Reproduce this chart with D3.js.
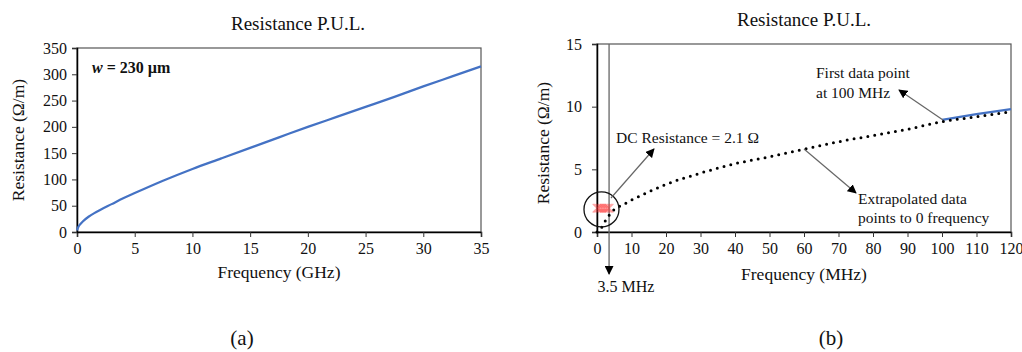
<!DOCTYPE html>
<html>
<head>
<meta charset="utf-8">
<script src="https://cdn.jsdelivr.net/npm/d3@7"></script>
<style>
  body { margin: 0; background: #fff; }
  text { font-family: 'Liberation Serif', serif; }
</style>
</head>
<body>
<div id="chart"></div>
<script>
// ---- data ----
// panel (a): resistance vs frequency in GHz
const ghzFreq = [0, 0.1, 0.25, 0.5, 1, 1.5, 2, 3, 4, 5, 7.5, 10, 12.5, 15, 17.5, 20, 22.5, 25, 27.5, 30, 32.5, 35]
const ghzRes  = [3, 9, 14, 20, 29, 36, 42, 53, 64, 74, 98, 120, 140, 160, 180, 200, 219, 238, 257, 277, 296, 315]
const ghzTicks = [0, 5, 10, 15, 20, 25, 30, 35]
const resTicksA = [0, 50, 100, 150, 200, 250, 300, 350]

// panel (b): measured (blue), extrapolated (dotted), DC points (red)
const mhzFreq = [100, 110, 120]
const mhzRes  = [8.95, 9.4, 9.8]
const extFreq = [0, 1, 2, 3, 4, 5, 6.5, 8, 10, 15, 20, 30, 40, 50, 60, 70, 80, 90, 100, 110, 120]
const extRes  = [0, 0.2, 0.7, 1.15, 1.5, 1.8, 2.05, 2.25, 2.55, 3.2, 3.8, 4.7, 5.45, 6.0, 6.6, 7.2, 7.7, 8.2, 8.8, 9.2, 9.6]
const dcFreq = [0, 0.5, 1, 1.5, 2, 2.5, 3, 3.5]
const dcRes  = [1.9, 1.9, 1.9, 1.9, 1.9, 1.9, 1.9, 1.9]
const mhzTicks = d3.range(0, 121, 10)
const resTicksB = [0, 5, 10, 15]

const svg = d3.select("#chart").append("svg")
  .attr("width", 1022).attr("height", 352)

const defs = svg.append("defs")
defs.append("marker")
  .attr("id", "head")
  .attr("viewBox", "0 0 10 10")
  .attr("refX", 9).attr("refY", 5)
  .attr("markerWidth", 9).attr("markerHeight", 9)
  .attr("markerUnits", "userSpaceOnUse")
  .attr("orient", "auto")
  .append("path").attr("d", "M0,0 L10,5 L0,10 Z").attr("fill", "#000")

function label(sel, size) {
  return sel.attr("font-family", "Liberation Serif")
    .attr("font-size", size).attr("fill", "#111")
}

function panel(opts) {
  const {left, right, top, bottom} = opts
  const x = d3.scaleLinear().domain(opts.xDomain).range([left, right])
  const y = d3.scaleLinear().domain(opts.yDomain).range([bottom, top])
  const g = svg.append("g")

  // frame (top/right grey)
  g.append("rect")
    .attr("x", left).attr("y", top)
    .attr("width", right - left).attr("height", bottom - top)
    .attr("fill", "none").attr("stroke", "#555").attr("stroke-width", 1.2)

  const xAxis = g.append("g")
    .attr("transform", `translate(0,${bottom})`)
    .call(d3.axisBottom(x).tickValues(opts.xTicks).tickSize(5).tickPadding(6))
  const yAxis = g.append("g")
    .attr("transform", `translate(${left},0)`)
    .call(d3.axisLeft(y).tickValues(opts.yTicks).tickSize(5).tickPadding(opts.yPad))
  for (const ax of [xAxis, yAxis]) {
    ax.attr("font-family", "Liberation Serif").attr("font-size", 16)
    ax.select(".domain").attr("stroke", "#000").attr("stroke-width", 1.5)
    ax.selectAll(".tick line").attr("stroke", "#333")
    ax.selectAll("text").attr("fill", "#111")
  }

  label(g.append("text"), 19)
    .attr("x", opts.titleX).attr("y", opts.titleY)
    .attr("text-anchor", "middle")
    .text("Resistance  P.U.L.")
  label(g.append("text"), 17.5)
    .attr("x", (left + right) / 2).attr("y", opts.xTitleY)
    .attr("text-anchor", "middle")
    .text(opts.xTitle)
  label(g.append("text"), 17.5)
    .attr("transform", `translate(${opts.yTitleX},${opts.yTitleY}) rotate(-90)`)
    .attr("text-anchor", "middle")
    .text("Resistance (Ω/m)")
  return {g, x, y}
}

// ---- panel (a) ----
const A = panel({
  left: 77, right: 481, top: 48, bottom: 232,
  xDomain: [0, 35], yDomain: [0, 350],
  xTicks: ghzTicks, yTicks: resTicksA, yPad: 5,
  titleX: 298, titleY: 30,
  xTitle: "Frequency (GHz)", xTitleY: 278,
  yTitleX: 24, yTitleY: 140
})
A.g.append("path")
  .datum(d3.zip(ghzFreq, ghzRes))
  .attr("fill", "none").attr("stroke", "#4472C4").attr("stroke-width", 2.2)
  .attr("d", d3.line().x(d => A.x(d[0])).y(d => A.y(d[1])).curve(d3.curveMonotoneX))
label(A.g.append("text"), 16)
  .attr("x", 92).attr("y", 73)
  .attr("font-weight", "bold")
  .call(t => {
    t.append("tspan").attr("font-style", "italic").text("w")
    t.append("tspan").text(" = 230 µm")
  })

// ---- panel (b) ----
const B = panel({
  left: 597, right: 1011, top: 44, bottom: 232,
  xDomain: [0, 120], yDomain: [0, 15],
  xTicks: mhzTicks, yTicks: resTicksB, yPad: 10,
  titleX: 804, titleY: 26,
  xTitle: "Frequency (MHz)", xTitleY: 280,
  yTitleX: 549, yTitleY: 143
})

// 3.5 MHz marker line
B.g.append("line")
  .attr("x1", B.x(3.5)).attr("x2", B.x(3.5))
  .attr("y1", 44).attr("y2", 274)
  .attr("stroke", "#666").attr("stroke-width", 1.3)
  .attr("marker-end", "url(#head)")
label(B.g.append("text"), 16)
  .attr("x", 626).attr("y", 292).attr("text-anchor", "middle")
  .text("3.5 MHz")

// blue measured
B.g.append("path")
  .datum(d3.zip(mhzFreq, mhzRes))
  .attr("fill", "none").attr("stroke", "#4472C4").attr("stroke-width", 2.2)
  .attr("d", d3.line().x(d => B.x(d[0])).y(d => B.y(d[1])))

// dotted extrapolation
B.g.append("path")
  .datum(d3.zip(extFreq, extRes))
  .attr("fill", "none").attr("stroke", "#000").attr("stroke-width", 3)
  .attr("stroke-linecap", "round").attr("stroke-dasharray", "0 7")
  .attr("d", d3.line().x(d => B.x(d[0])).y(d => B.y(d[1])).curve(d3.curveMonotoneX))

// red DC points
B.g.append("g").selectAll("path")
  .data(d3.zip(dcFreq, dcRes))
  .join("path")
  .attr("transform", d => `translate(${B.x(d[0])},${B.y(d[1])})`)
  .attr("d", d3.symbol(d3.symbolX, 50)())
  .attr("fill", "none").attr("stroke", "#ff3030").attr("stroke-opacity", 0.45).attr("stroke-width", 1.3)

// circle around DC
B.g.append("circle")
  .attr("cx", B.x(1.3)).attr("cy", B.y(1.8)).attr("r", 17.5)
  .attr("fill", "none").attr("stroke", "#111").attr("stroke-width", 1.3)

// annotations
const arrows = [
  [611, 198, 654, 149],
  [943, 120, 899, 90],
  [804, 149, 856, 193]
]
B.g.selectAll("line.ann").data(arrows).join("line")
  .attr("class", "ann")
  .attr("x1", d => d[0]).attr("y1", d => d[1])
  .attr("x2", d => d[2]).attr("y2", d => d[3])
  .attr("stroke", "#666").attr("stroke-width", 1.2)
  .attr("marker-end", "url(#head)")

const notes = [
  [616, 143, "DC Resistance = 2.1 Ω"],
  [816, 78, "First data point"],
  [816, 98, "at 100 MHz"],
  [858, 204, "Extrapolated data"],
  [858, 223, "points to 0 frequency"]
]
label(B.g.selectAll("text.note").data(notes).join("text"), 15.5)
  .attr("class", "note")
  .attr("x", d => d[0]).attr("y", d => d[1])
  .text(d => d[2])

// captions
label(svg.append("text"), 21).attr("x", 242).attr("y", 345).attr("text-anchor", "middle").text("(a)")
label(svg.append("text"), 21).attr("x", 831).attr("y", 345).attr("text-anchor", "middle").text("(b)")
</script>
</body>
</html>
